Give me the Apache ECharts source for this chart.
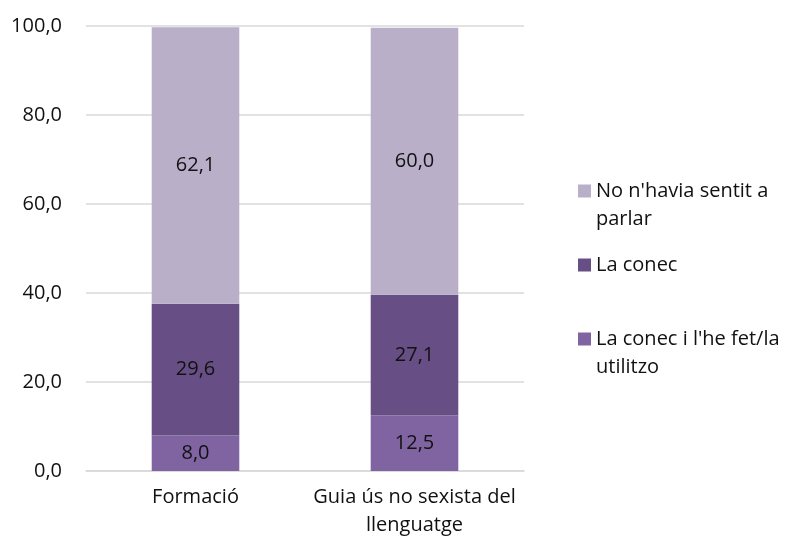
<!DOCTYPE html>
<html>
<head>
<meta charset="utf-8">
<script src="https://cdn.jsdelivr.net/npm/echarts@6/dist/echarts.min.js"></script>
<style>
  html, body { margin: 0; padding: 0; background: #fff; }
  #chart { width: 793px; height: 543px; }
</style>
</head>
<body>
<div id="chart"></div>
<script>
var categories = ['Formació', 'Guia ús no sexista del\nllenguatge'];
var seriesNames = ["La conec i l'he fet/la utilitzo", 'La conec', "No n'havia sentit a parlar"];
// la línia buida inicial fa que el quadre quedi a l'altura de la primera línia
var legendLabels = ["\nLa conec i l'he fet/la\nutilitzo", 'La conec', "\nNo n'havia sentit a\nparlar"];
var utilitzo = [8.0, 12.5];
var conec = [29.6, 27.1];
var noSentit = [62.1, 60.0];
var yTicks = [0, 20, 40, 60, 80, 100];

var colors = ['#8064a2', '#674f85', '#b9afc9'];
var font = 'Open Sans';

function fmt(v) {
    return Number(v).toFixed(1).replace('.', ',');
}

var seriesData = [utilitzo, conec, noSentit];
var series = [];
for (var i = 0; i < seriesData.length; i++) {
    series.push({
        name: seriesNames[i],
        type: 'bar',
        stack: 'total',
        barWidth: '40%',
        data: seriesData[i],
        itemStyle: { color: colors[i] },
        label: {
            show: true,
            position: 'inside',
            color: '#111',
            fontFamily: font,
            fontSize: 20,
            formatter: function (p) { return fmt(p.value); }
        },
        emphasis: { disabled: true }
    });
}

// una llegenda per element, per situar-les com a l'original
var legendTops = [297, 251, 149];
var legends = [];
for (var j = 0; j < seriesNames.length; j++) {
    legends.push({
        left: 578,
        top: legendTops[j],
        padding: 0,
        orient: 'vertical',
        icon: 'rect',
        itemWidth: 13,
        itemHeight: 13,
        itemGap: 0,
        selectedMode: false,
        data: [seriesNames[j]],
        formatter: (function (t) { return function () { return t; }; })(legendLabels[j]),
        textStyle: {
            color: '#111',
            fontFamily: font,
            fontSize: 20,
            lineHeight: 28
        }
    });
}

var chart = echarts.init(document.getElementById('chart'), null, { renderer: 'canvas' });
chart.setOption({
    animation: false,
    grid: { left: 86, right: 269, top: 26, bottom: 72 },
    legend: legends,
    xAxis: {
        type: 'category',
        data: categories,
        axisLine: { lineStyle: { color: '#d9d9d9', width: 1.5 } },
        axisTick: { show: false },
        axisLabel: {
            color: '#111',
            fontFamily: font,
            fontSize: 20,
            lineHeight: 28,
            margin: 12,
            interval: 0
        }
    },
    yAxis: {
        type: 'value',
        min: yTicks[0],
        max: yTicks[yTicks.length - 1],
        interval: 20,
        axisLine: { show: false },
        axisTick: { show: false },
        splitLine: { lineStyle: { color: '#d9d9d9', width: 1.5 } },
        axisLabel: {
            color: '#111',
            fontFamily: font,
            fontSize: 20,
            margin: 24,
            formatter: fmt
        }
    },
    series: series
});
</script>
</body>
</html>
